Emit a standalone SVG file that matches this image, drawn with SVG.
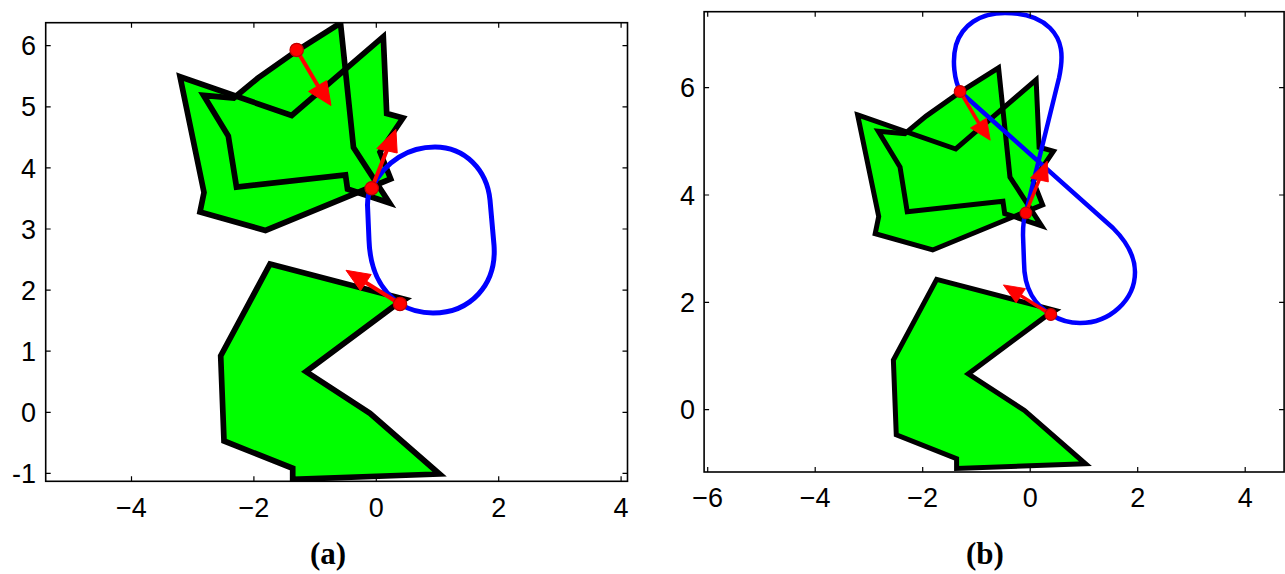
<svg xmlns="http://www.w3.org/2000/svg" xmlns:xlink="http://www.w3.org/1999/xlink" width="1285" height="574" viewBox="0 0 1285 574">
<style>
.poly{fill:#00ff00;stroke:none}
.edge{fill:none;stroke:#000;stroke-width:5.7;stroke-linejoin:miter;stroke-miterlimit:4}
.path{fill:none;stroke:#0000ff;stroke-width:5;stroke-linejoin:round}
.shaft{stroke:#ff0000;stroke-width:4;fill:none}
.head{fill:#ff0000;stroke:#ff0000;stroke-width:1;stroke-linejoin:round}
.dot{fill:#ff0000;stroke:#c00000;stroke-width:1.2}
.ax{fill:none;stroke:#000;stroke-width:1.6}
.tick{stroke:#000;stroke-width:1.2;fill:none}
.tl{font-family:"Liberation Sans",Arial,sans-serif;font-size:27px;fill:#000}
.ty{text-anchor:end}
.tx{text-anchor:middle}
.cap{font-family:"Liberation Serif","Times New Roman",serif;font-weight:bold;font-size:31px;text-anchor:middle;fill:#000}
</style>
<defs>
<clipPath id="clipA"><rect x="45.7" y="22.7" width="581.8" height="458.6"/></clipPath>
<clipPath id="clipB"><rect x="704.1" y="11.7" width="580" height="460.3"/></clipPath>
<polygon id="p1" points="180,76.7 291.7,115.5 383.3,36.7 386.7,113.5 403,118 380,152 390.7,179 265.5,230.5 200,212 204,192.5"/>
<polygon id="p2" points="203.5,95.3 233.8,98 258,78 297,50.5 340.5,23 353.5,147.5 389.5,203 347.5,189 345.5,175 236.5,187 228.3,136"/>
<polygon id="p3" points="270,264 405,299.3 393.3,306.7 306,371.7 370,413.3 439.5,474 292.7,479.3 292.7,468.3 224,441 220.7,356"/>
<g id="shapes">
<use xlink:href="#p3" class="poly"/>
<use xlink:href="#p3" class="edge"/>
<use xlink:href="#p1" class="poly"/>
<use xlink:href="#p2" class="poly"/>
<use xlink:href="#p1" class="edge"/>
<use xlink:href="#p2" class="edge"/>
</g>
<g id="arrows">
<line class="shaft" x1="296.7" y1="50" x2="318" y2="86"/>
<polygon class="head" points="308.5,91.5 326.7,80.5 331,105.5"/>
<circle class="dot" cx="296.7" cy="50" r="6.7"/>
<line class="shaft" x1="371.7" y1="188.3" x2="387" y2="150"/>
<polygon class="head" points="376.8,148.5 395.9,129.3 397.2,153"/>
<circle class="dot" cx="371.7" cy="188.3" r="6.7"/>
<line class="shaft" x1="400" y1="304" x2="365.7" y2="282.5"/>
<polygon class="head" points="346,270.3 371.2,274.5 360.5,290.7"/>
<circle class="dot" cx="400" cy="304" r="6.7"/>
</g>
</defs>

<g id="plot-a">
<g id="plot-a-content" clip-path="url(#clipA)">
<use xlink:href="#shapes"/>
<path class="path" d="M371.7,188.3 C385,160 410,147 435,147 C465,147 487,170 490,200 L494,245 C497,285 470,313 433,313 C420,313 408,309 400,304 C380,290 370,270 369,240 L367.5,205 C367.5,198 369,192 371.7,188.3 Z"/>
<use xlink:href="#arrows"/>
</g>
<g id="plot-a-axes">
<rect class="ax" x="45.7" y="22.7" width="581.8" height="458.6"/>
<path class="tick" d="M131.5,481.3v-5M253.9,481.3v-5M376.3,481.3v-5M498.7,481.3v-5M621.1,481.3v-5M131.5,22.7v5M253.9,22.7v5M376.3,22.7v5M498.7,22.7v5M621.1,22.7v5M45.7,45.7h5M45.7,106.8h5M45.7,167.9h5M45.7,229h5M45.7,290.1h5M45.7,351.2h5M45.7,412.3h5M45.7,473.4h5M627.5,45.7h-5M627.5,106.8h-5M627.5,167.9h-5M627.5,229h-5M627.5,290.1h-5M627.5,351.2h-5M627.5,412.3h-5M627.5,473.4h-5"/>
<g class="tl ty">
<text x="36" y="55.3">6</text>
<text x="36" y="116.4">5</text>
<text x="36" y="177.5">4</text>
<text x="36" y="238.6">3</text>
<text x="36" y="299.7">2</text>
<text x="36" y="360.8">1</text>
<text x="36" y="421.9">0</text>
<text x="36" y="483">-1</text>
</g>
<g class="tl tx">
<text x="131.5" y="517">−4</text>
<text x="253.9" y="517">−2</text>
<text x="376.3" y="517">0</text>
<text x="498.7" y="517">2</text>
<text x="621.1" y="517">4</text>
</g>
<text class="cap" x="328" y="564">(a)</text>
</g>
</g>

<g id="plot-b">
<g id="plot-b-content" clip-path="url(#clipB)">
<g transform="matrix(0.878 0 0 0.878 699.6 47.6)">
<use xlink:href="#shapes"/>
</g>
<path class="path" style="stroke-width:4.5" d="M1051.7,315 C1035,305 1024,290 1024,262 L1023,235 C1023,222 1024,217 1026,212 L1059,78 C1064,55 1062,40 1050,28 C1040,18 1025,13 1005,13 C980,13 962,25 956,45 C952,60 954,80 960.7,92.3 L1113,228 C1125,240 1135,255 1135,272 C1135,300 1110,323 1080,323 C1068,323 1058,319 1051.7,315 Z"/>
<g transform="matrix(0.878 0 0 0.878 699.6 47.6)">
<use xlink:href="#arrows"/>
</g>
</g>
<g id="plot-b-axes">
<rect class="ax" x="704.1" y="11.7" width="580" height="460.3"/>
<path class="tick" d="M707.7,472v-5M815.2,472v-5M922.7,472v-5M1030.2,472v-5M1137.7,472v-5M1245.2,472v-5M707.7,11.7v5M815.2,11.7v5M922.7,11.7v5M1030.2,11.7v5M1137.7,11.7v5M1245.2,11.7v5M704.1,87.7h5M704.1,195h5M704.1,302.3h5M704.1,409.6h5M1284.1,87.7h-5M1284.1,195h-5M1284.1,302.3h-5M1284.1,409.6h-5"/>
<g class="tl ty">
<text x="695" y="97.3">6</text>
<text x="695" y="204.6">4</text>
<text x="695" y="311.9">2</text>
<text x="695" y="419.2">0</text>
</g>
<g class="tl tx">
<text x="707.7" y="507">−6</text>
<text x="815.2" y="507">−4</text>
<text x="922.7" y="507">−2</text>
<text x="1030.2" y="507">0</text>
<text x="1137.7" y="507">2</text>
<text x="1245.2" y="507">4</text>
</g>
<text class="cap" x="985" y="564">(b)</text>
</g>
</g>
</svg>
